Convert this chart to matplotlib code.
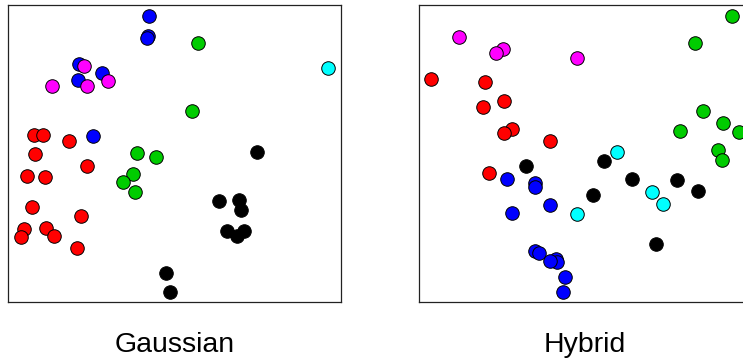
import matplotlib.pyplot as plt

plt.rcParams['font.family'] = ['Liberation Sans', 'DejaVu Sans']

# Gaussian embedding, points per class (x, y)
gauss_blue_x = [141, 140, 138.7, 71, 94, 69.3, 84.3]
gauss_blue_y = [286.3, 266.7, 264, 238, 229.7, 222.3, 166.3]
gauss_magenta_x = [76, 43.7, 79, 100]
gauss_magenta_y = [236.7, 216, 216.3, 221.3]
gauss_cyan_x = [319.7]
gauss_cyan_y = [234.3]
gauss_green_x = [189.7, 184, 128.3, 148, 124.7, 114.3, 126.3]
gauss_green_y = [259.7, 191.3, 149.3, 145.7, 128.3, 120.7, 110]
gauss_red_x = [25.7, 35, 60.7, 26.3, 79, 19, 36.7, 24, 72.3, 15.3, 12.7, 37.7, 45.7, 69]
gauss_red_y = [167.7, 167.3, 161, 148.7, 136.7, 126.3, 125, 95.7, 86.7, 73.3, 65.3, 74.7, 66.3, 54]
gauss_black_x = [249, 211, 230.3, 232.3, 219, 236, 229, 157.7, 161.3]
gauss_black_y = [150.3, 101.3, 102.3, 92, 71.3, 71.3, 66.3, 29.7, 10.7]

# Hybrid embedding
hyb_magenta_x = [40, 84, 77, 158]
hyb_magenta_y = [265, 253.3, 249, 244.3]
hyb_red_x = [12.3, 65.7, 84.7, 64, 93.3, 85.3, 130.7, 70]
hyb_red_y = [223.7, 220.7, 201.7, 195, 173.7, 169.3, 161.7, 129.3]
hyb_black_x = [106.7, 184.7, 212.7, 174, 258, 279, 236.7]
hyb_black_y = [136.7, 141.7, 123, 107, 122, 111, 58.7]
hyb_cyan_x = [198.3, 233.3, 244, 158]
hyb_cyan_y = [150, 110.7, 98.7, 88.7]
hyb_blue_x = [87.7, 116, 116, 131, 93.3, 115.7, 119.7, 136.7, 138.3, 130.7, 146.3, 144]
hyb_blue_y = [123.3, 119.7, 115.7, 97, 89.3, 51, 49, 43.7, 40.3, 41, 25, 10.7]
hyb_green_x = [313.3, 275.7, 284.3, 304.3, 320, 260.7, 299.3, 303.3]
hyb_green_y = [286.3, 259.7, 191.7, 179, 170.3, 171.3, 152.7, 142.7]

gauss = [
    (gauss_blue_x, gauss_blue_y, '#0000ff'),
    (gauss_magenta_x, gauss_magenta_y, '#ff00ff'),
    (gauss_cyan_x, gauss_cyan_y, '#00ffff'),
    (gauss_green_x, gauss_green_y, '#00cc00'),
    (gauss_red_x, gauss_red_y, '#ff0000'),
    (gauss_black_x, gauss_black_y, '#000000'),
]
hybrid = [
    (hyb_magenta_x, hyb_magenta_y, '#ff00ff'),
    (hyb_red_x, hyb_red_y, '#ff0000'),
    (hyb_black_x, hyb_black_y, '#000000'),
    (hyb_cyan_x, hyb_cyan_y, '#00ffff'),
    (hyb_blue_x, hyb_blue_y, '#0000ff'),
    (hyb_green_x, hyb_green_y, '#00cc00'),
]

W, H = 743.0, 360.0
fig = plt.figure(figsize=(W / 100, H / 100), dpi=100)
ax1 = fig.add_axes([8.3 / W, (H - 302.3) / H, 332.4 / W, 297.3 / H])
ax2 = fig.add_axes([419 / W, (H - 302.3) / H, 332.4 / W, 297.3 / H])

for ax, groups, title in [(ax1, gauss, 'Gaussian'), (ax2, hybrid, 'Hybrid')]:
    for xs, ys, c in groups:
        ax.scatter(xs, ys, s=95, c=c, edgecolors='black', linewidths=0.7, zorder=3)
    ax.set_xlim(0, 332.4)
    ax.set_ylim(0, 297.3)
    ax.set_xticks([])
    ax.set_yticks([])
    for sp in ax.spines.values():
        sp.set_linewidth(0.9)
        sp.set_color('#222222')
    ax.text(0.5, -0.166, title, transform=ax.transAxes, ha='center', va='baseline',
            fontsize=20.5)

fig.savefig('out.png', dpi=100)
